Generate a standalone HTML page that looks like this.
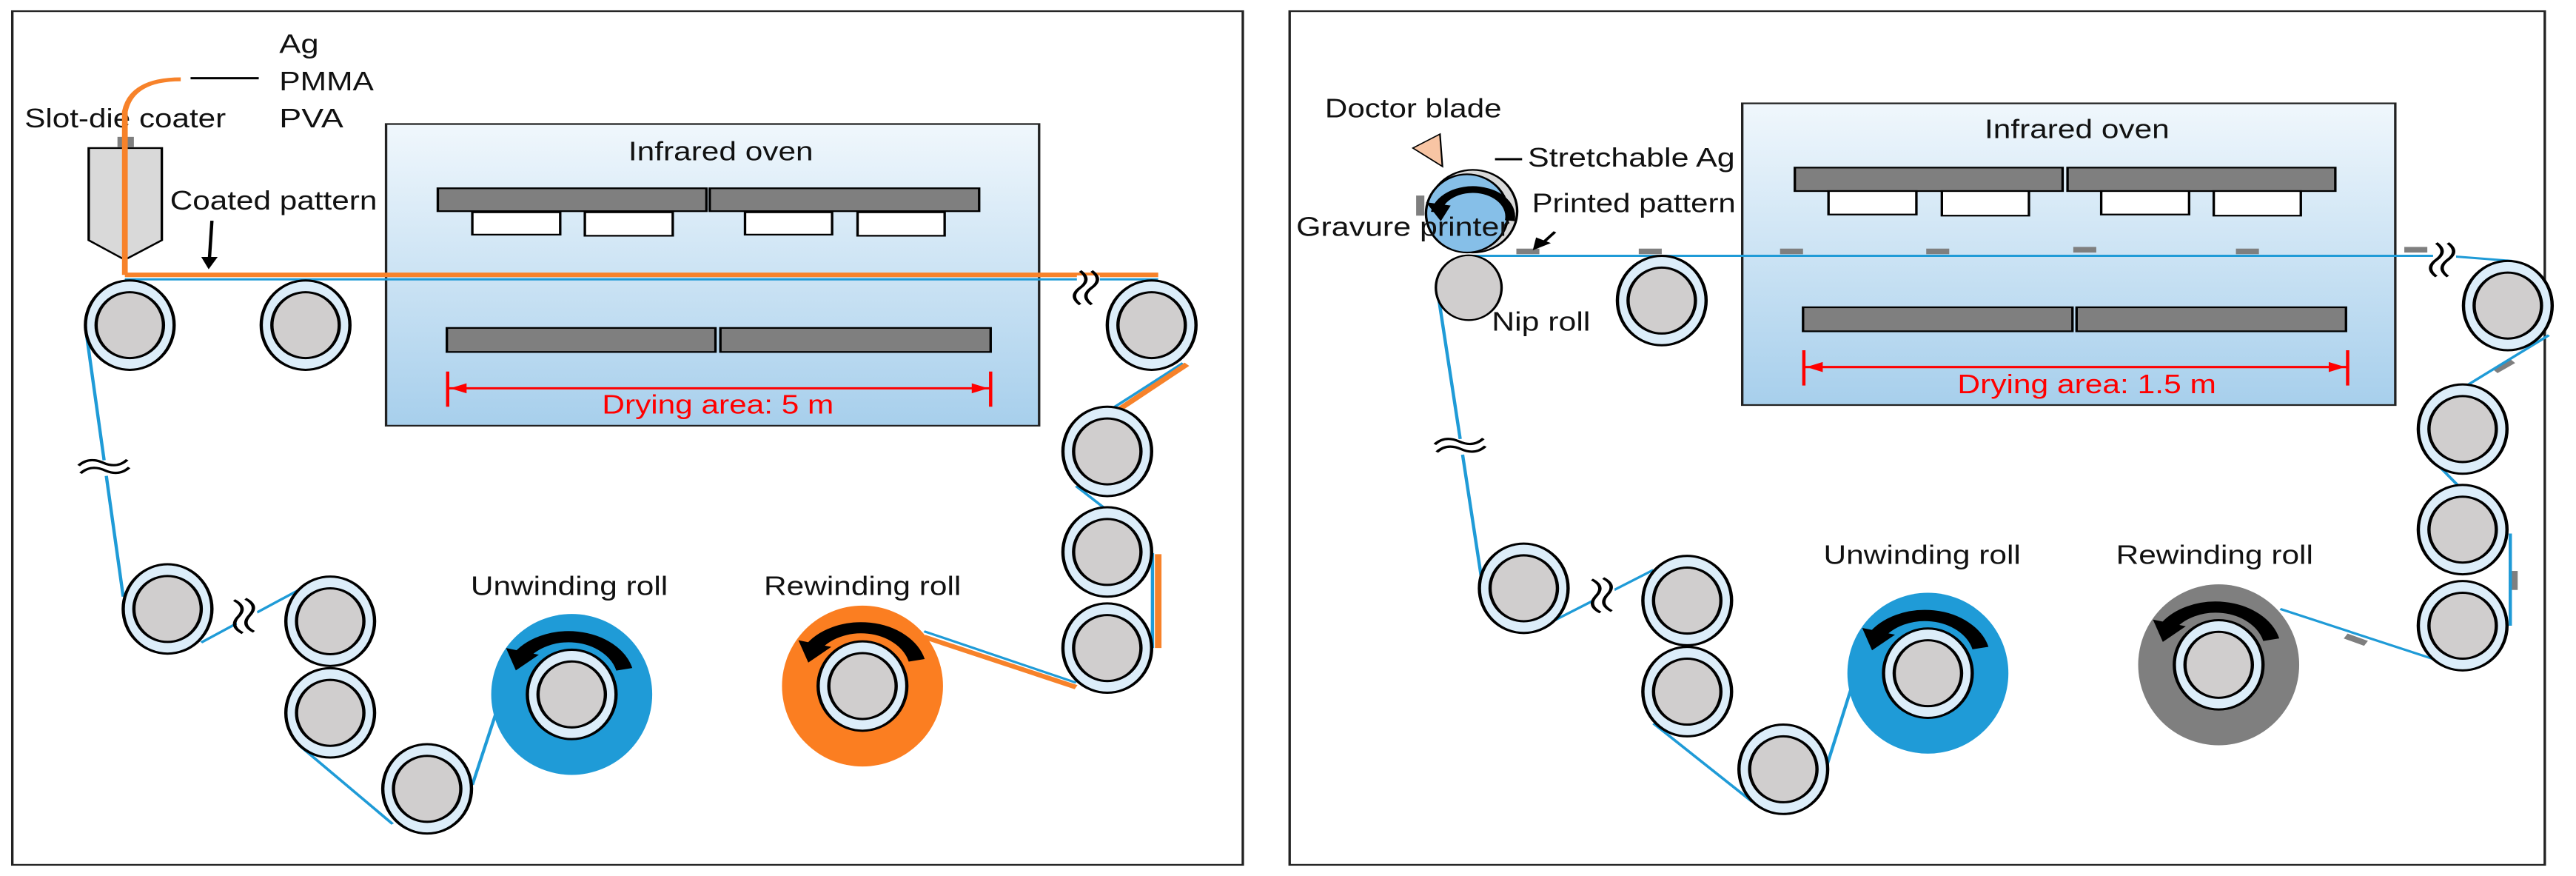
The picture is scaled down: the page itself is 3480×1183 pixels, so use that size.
<!DOCTYPE html>
<html><head><meta charset="utf-8"><style>
html,body{margin:0;padding:0;background:#fff;}
svg{display:block;}
text{font-family:"Liberation Sans",sans-serif;font-size:48px;fill:#111;}
</style></head><body>
<svg width="3480" height="1183" viewBox="0 0 3136 1568" preserveAspectRatio="none" xmlns="http://www.w3.org/2000/svg">
<defs>
<linearGradient id="ov" x1="0" y1="0" x2="0" y2="1">
<stop offset="0" stop-color="#f0f7fc"/><stop offset="1" stop-color="#a7cfec"/></linearGradient>
<g id="r"><ellipse rx="54" ry="80" fill="#dcedf9" stroke="#000" stroke-width="4"/><ellipse rx="41" ry="59" fill="#d0cece" stroke="#000" stroke-width="4"/></g>
<g id="brk"><rect x="-14" y="-22" width="28" height="44" fill="#fff"/><path d="M-10,-30 q14,15 0,30 t0,30" fill="none" stroke="#000" stroke-width="4"/><path d="M4,-30 q14,15 0,30 t0,30" fill="none" stroke="#000" stroke-width="4"/></g>
</defs>
<rect x="0" y="0" width="3136" height="1568" fill="#fff"/>

<!-- LEFT PANEL -->
<rect x="15" y="20" width="1498" height="1528" fill="none" stroke="#222" stroke-width="3"/>
<text x="340" y="95" textLength="48" lengthAdjust="spacingAndGlyphs">Ag</text>
<text x="340" y="162" textLength="115" lengthAdjust="spacingAndGlyphs">PMMA</text>
<text x="340" y="228" textLength="78" lengthAdjust="spacingAndGlyphs">PVA</text>
<line x1="232" y1="140" x2="315" y2="140" stroke="#000" stroke-width="4"/>
<text x="30" y="228" textLength="245" lengthAdjust="spacingAndGlyphs">Slot-die coater</text>
<polygon points="108,265 197,265 197,430 152,465 108,430" fill="#d9d9d9" stroke="#000" stroke-width="3"/>
<rect x="143" y="245" width="20" height="18" fill="#7f7f7f"/>
<path d="M220,142 Q160,142 152,200 L152,492" fill="none" stroke="#f7822a" stroke-width="7"/>
<text x="207" y="375" textLength="252" lengthAdjust="spacingAndGlyphs">Coated pattern</text>
<line x1="258" y1="395" x2="255" y2="462" stroke="#000" stroke-width="4"/>
<polygon points="245,460 265,460 254,482" fill="#000"/>
<rect x="470" y="222" width="795" height="540" fill="url(#ov)" stroke="#222" stroke-width="3"/>
<text x="765" y="287" textLength="225" lengthAdjust="spacingAndGlyphs">Infrared oven</text>
<rect x="533" y="337" width="327" height="41" fill="#7f7f7f" stroke="#000" stroke-width="3"/>
<rect x="864" y="337" width="328" height="41" fill="#7f7f7f" stroke="#000" stroke-width="3"/>
<rect x="575" y="380" width="107" height="40" fill="#fff" stroke="#000" stroke-width="3"/>
<rect x="712" y="380" width="107" height="42" fill="#fff" stroke="#000" stroke-width="3"/>
<rect x="907" y="380" width="106" height="40" fill="#fff" stroke="#000" stroke-width="3"/>
<rect x="1044" y="380" width="106" height="42" fill="#fff" stroke="#000" stroke-width="3"/>
<rect x="544" y="587" width="327" height="43" fill="#7f7f7f" stroke="#000" stroke-width="3"/>
<rect x="877" y="587" width="329" height="43" fill="#7f7f7f" stroke="#000" stroke-width="3"/>
<line x1="545" y1="695" x2="1206" y2="695" stroke="#f00" stroke-width="4"/>
<line x1="545" y1="665" x2="545" y2="728" stroke="#f00" stroke-width="4"/>
<line x1="1206" y1="665" x2="1206" y2="728" stroke="#f00" stroke-width="4"/>
<polygon points="548,695 568,686 568,704" fill="#f00"/><polygon points="1203,695 1183,686 1183,704" fill="#f00"/>
<text x="733" y="740" textLength="282" lengthAdjust="spacingAndGlyphs" style="fill:#f00">Drying area: 5 m</text>
<line x1="152" y1="500" x2="1410" y2="500" stroke="#1f9bd7" stroke-width="4"/>
<line x1="152" y1="492" x2="1410" y2="492" stroke="#f7822a" stroke-width="8"/>
<polyline points="104,585 150,1068" fill="none" stroke="#1f9bd7" stroke-width="4"/>
<line x1="245" y1="1150" x2="365" y2="1055" stroke="#1f9bd7" stroke-width="4"/>
<line x1="365" y1="1335" x2="478" y2="1475" stroke="#1f9bd7" stroke-width="4"/>
<line x1="575" y1="1405" x2="603" y2="1280" stroke="#1f9bd7" stroke-width="4"/>
<line x1="1440" y1="650" x2="1350" y2="735" stroke="#1f9bd7" stroke-width="4"/>
<line x1="1310" y1="870" x2="1345" y2="910" stroke="#1f9bd7" stroke-width="4"/>
<line x1="1403" y1="990" x2="1403" y2="1160" stroke="#1f9bd7" stroke-width="4"/>
<line x1="1310" y1="1222" x2="1125" y2="1130" stroke="#1f9bd7" stroke-width="4"/>
<line x1="1445" y1="652" x2="1357" y2="738" stroke="#f7822a" stroke-width="8"/>
<line x1="1410" y1="992" x2="1410" y2="1160" stroke="#f7822a" stroke-width="8"/>
<line x1="1310" y1="1230" x2="1125" y2="1140" stroke="#f7822a" stroke-width="8"/>
<use href="#r" x="158" y="582"/><use href="#r" x="372" y="582"/><use href="#r" x="1402" y="582"/>
<use href="#r" x="1348" y="808"/><use href="#r" x="1348" y="988"/><use href="#r" x="1348" y="1160"/>
<use href="#r" x="204" y="1090"/><use href="#r" x="402" y="1112"/><use href="#r" x="402" y="1276"/><use href="#r" x="520" y="1412"/>
<use href="#brk" transform="translate(127,838) rotate(80)"/>
<use href="#brk" transform="translate(300,1102) rotate(-10)"/>
<use href="#brk" transform="translate(1325,515)"/>
<text x="573" y="1065" textLength="240" lengthAdjust="spacingAndGlyphs">Unwinding roll</text>
<text x="930" y="1065" textLength="240" lengthAdjust="spacingAndGlyphs">Rewinding roll</text>
<ellipse cx="696" cy="1243" rx="98" ry="144" fill="#1f9bd7"/>
<use href="#r" x="696" y="1243"/>
<path d="M632,1178 A70 78 0 0 1 760,1198" fill="none" stroke="#000" stroke-width="20"/>
<polygon points="616,1160 656,1172 628,1200" fill="#000"/>
<ellipse cx="1050" cy="1228" rx="98" ry="144" fill="#fb7e21"/>
<use href="#r" x="1050" y="1228"/>
<path d="M988,1162 A70 78 0 0 1 1116,1182" fill="none" stroke="#000" stroke-width="20"/>
<polygon points="972,1146 1012,1158 984,1186" fill="#000"/>

<!-- RIGHT PANEL -->
<g transform="translate(1568,0)">
<rect x="2" y="20" width="1528" height="1528" fill="none" stroke="#222" stroke-width="3"/>
<text x="45" y="210" textLength="215" lengthAdjust="spacingAndGlyphs">Doctor blade</text>
<rect x="553" y="185" width="795" height="540" fill="url(#ov)" stroke="#222" stroke-width="3"/>
<text x="848" y="247" textLength="225" lengthAdjust="spacingAndGlyphs">Infrared oven</text>
<rect x="617" y="300" width="326" height="42" fill="#7f7f7f" stroke="#000" stroke-width="3"/>
<rect x="949" y="300" width="326" height="42" fill="#7f7f7f" stroke="#000" stroke-width="3"/>
<rect x="658" y="342" width="107" height="42" fill="#fff" stroke="#000" stroke-width="3"/>
<rect x="796" y="342" width="106" height="44" fill="#fff" stroke="#000" stroke-width="3"/>
<rect x="990" y="342" width="107" height="42" fill="#fff" stroke="#000" stroke-width="3"/>
<rect x="1127" y="342" width="106" height="44" fill="#fff" stroke="#000" stroke-width="3"/>
<rect x="627" y="550" width="328" height="43" fill="#7f7f7f" stroke="#000" stroke-width="3"/>
<rect x="960" y="550" width="328" height="43" fill="#7f7f7f" stroke="#000" stroke-width="3"/>
<line x1="628" y1="657" x2="1290" y2="657" stroke="#f00" stroke-width="4"/>
<line x1="628" y1="627" x2="628" y2="690" stroke="#f00" stroke-width="4"/>
<line x1="1290" y1="627" x2="1290" y2="690" stroke="#f00" stroke-width="4"/>
<polygon points="631,657 651,648 651,666" fill="#f00"/><polygon points="1287,657 1267,648 1267,666" fill="#f00"/>
<text x="815" y="704" textLength="315" lengthAdjust="spacingAndGlyphs" style="fill:#f00">Drying area: 1.5 m</text>
<polyline points="220,458 1410,458 1490,467" fill="none" stroke="#1f9bd7" stroke-width="4"/>
<g fill="#7f7f7f">
<rect x="278" y="445" width="28" height="10"/><rect x="427" y="445" width="28" height="10"/><rect x="599" y="445" width="28" height="10"/>
<rect x="777" y="445" width="28" height="10"/><rect x="956" y="442" width="28" height="10"/><rect x="1154" y="445" width="28" height="10"/><rect x="1359" y="442" width="28" height="10"/>
<rect x="1466" y="650" width="28" height="10" transform="rotate(-40 1480 655)"/>
<rect x="1487" y="1022" width="10" height="34"/>
<rect x="1286" y="1140" width="28" height="10" transform="rotate(28 1300 1145)"/>
<rect x="156" y="350" width="10" height="36"/>
</g>
<line x1="182" y1="520" x2="235" y2="1030" stroke="#1f9bd7" stroke-width="4"/>
<line x1="325" y1="1110" x2="445" y2="1020" stroke="#1f9bd7" stroke-width="4"/>
<line x1="445" y1="1295" x2="565" y2="1435" stroke="#1f9bd7" stroke-width="4"/>
<line x1="655" y1="1375" x2="685" y2="1235" stroke="#1f9bd7" stroke-width="4"/>
<line x1="1535" y1="600" x2="1435" y2="690" stroke="#1f9bd7" stroke-width="4"/>
<line x1="1395" y1="825" x2="1425" y2="870" stroke="#1f9bd7" stroke-width="4"/>
<line x1="1488" y1="955" x2="1488" y2="1120" stroke="#1f9bd7" stroke-width="4"/>
<line x1="1395" y1="1180" x2="1208" y2="1090" stroke="#1f9bd7" stroke-width="4"/>
<ellipse cx="225" cy="378" rx="54" ry="74" fill="#d9d9d9" stroke="#000" stroke-width="3"/>
<ellipse cx="218" cy="382" rx="50" ry="70" fill="#86bfe8" stroke="#000" stroke-width="3"/>
<path d="M180,380 A34 36 0 0 1 270,395" fill="none" stroke="#000" stroke-width="12"/>
<polygon points="168,362 198,368 186,396" fill="#000"/>
<polygon points="152,265 185,240 188,298" fill="#f8c5a4" stroke="#000" stroke-width="2"/>
<line x1="252" y1="285" x2="285" y2="285" stroke="#000" stroke-width="4"/>
<text x="292" y="298" textLength="252" lengthAdjust="spacingAndGlyphs">Stretchable Ag</text>
<text x="297" y="380" textLength="248" lengthAdjust="spacingAndGlyphs">Printed pattern</text>
<line x1="325" y1="415" x2="310" y2="435" stroke="#000" stroke-width="4"/>
<polygon points="298,448 302,425 320,435" fill="#000"/>
<text x="10" y="422" textLength="260" lengthAdjust="spacingAndGlyphs">Gravure printer</text>
<ellipse cx="220" cy="515" rx="40" ry="58" fill="#d0cece" stroke="#000" stroke-width="3"/>
<text x="248" y="592" textLength="120" lengthAdjust="spacingAndGlyphs">Nip roll</text>
<use href="#r" x="455" y="538"/><use href="#r" x="1485" y="547"/>
<use href="#r" x="1430" y="768"/><use href="#r" x="1430" y="948"/><use href="#r" x="1430" y="1120"/>
<use href="#r" x="287" y="1053"/><use href="#r" x="486" y="1075"/><use href="#r" x="486" y="1238"/><use href="#r" x="603" y="1377"/>
<use href="#brk" transform="translate(210,800) rotate(80)"/>
<use href="#brk" transform="translate(385,1065) rotate(-10)"/>
<use href="#brk" transform="translate(1408,465)"/>
<text x="652" y="1009" textLength="240" lengthAdjust="spacingAndGlyphs">Unwinding roll</text>
<text x="1008" y="1009" textLength="240" lengthAdjust="spacingAndGlyphs">Rewinding roll</text>
<ellipse cx="779" cy="1205" rx="98" ry="144" fill="#1f9bd7"/>
<use href="#r" x="779" y="1205"/>
<path d="M715,1140 A70 78 0 0 1 843,1160" fill="none" stroke="#000" stroke-width="20"/>
<polygon points="699,1124 739,1136 711,1164" fill="#000"/>
<ellipse cx="1133" cy="1190" rx="98" ry="144" fill="#7f7f7f"/>
<use href="#r" x="1133" y="1190"/>
<path d="M1069,1125 A70 78 0 0 1 1197,1145" fill="none" stroke="#000" stroke-width="20"/>
<polygon points="1053,1109 1093,1121 1065,1149" fill="#000"/>
</g>
</svg>
</body></html>
